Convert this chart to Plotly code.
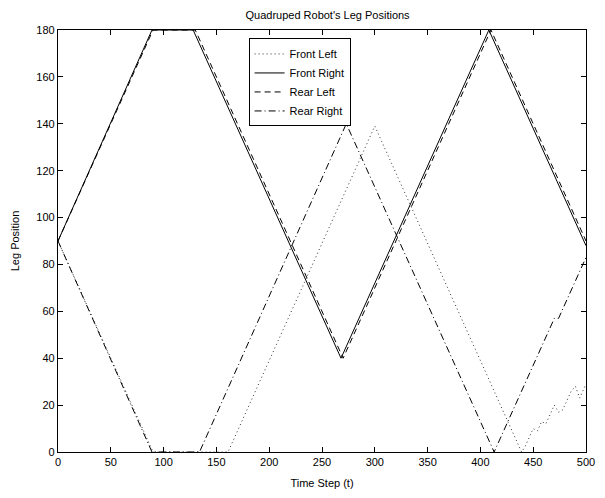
import plotly.graph_objects as go

# Time steps and leg positions (breakpoints)
fl_t = [0, 90, 161, 300, 439, 442, 446, 450, 454, 458, 462, 466, 470, 474, 478, 482, 486, 490, 494, 497, 500]
fl_v = [90, 0, 0, 139, 0, 2, 6, 10, 9, 13, 12, 16, 20, 17, 18, 22, 26, 28, 23, 26, 29]

fr_t = [0, 89, 128, 268, 408, 500]
fr_v = [90, 180, 180, 40, 180, 88]

rl_t = [0, 90, 130, 270, 410, 500]
rl_v = [90, 180, 180, 40, 180, 90]

rr_t = [0, 89, 134, 273, 413, 470, 474, 500]
rr_v = [90, 0, 0, 140, 0, 57, 57, 83]

x_ticks = [0, 50, 100, 150, 200, 250, 300, 350, 400, 450, 500]
y_ticks = [0, 20, 40, 60, 80, 100, 120, 140, 160, 180]

FONT = "Liberation Sans, Arial, Helvetica, sans-serif"

fig = go.Figure()
fig.add_trace(go.Scatter(x=fl_t, y=fl_v, mode="lines", name="Front Left",
                         line=dict(color="#333333", width=1, dash="1px,3px")))
fig.add_trace(go.Scatter(x=fr_t, y=fr_v, mode="lines", name="Front Right",
                         line=dict(color="black", width=1, dash="solid")))
fig.add_trace(go.Scatter(x=rl_t, y=rl_v, mode="lines", name="Rear Left",
                         line=dict(color="black", width=1, dash="6px,4px")))
fig.add_trace(go.Scatter(x=rr_t, y=rr_v, mode="lines", name="Rear Right",
                         line=dict(color="black", width=1, dash="7px,3px,1px,3px")))

axis_common = dict(
    showline=True, linecolor="black", linewidth=1.2, mirror="ticks",
    ticks="inside", ticklen=5, tickwidth=1, tickcolor="black",
    showgrid=False, zeroline=False,
    tickfont=dict(family=FONT, size=11, color="black"),
)

fig.update_layout(
    width=605, height=498,
    margin=dict(l=58, r=10, t=30, b=45),
    paper_bgcolor="white", plot_bgcolor="white",
    font=dict(family=FONT, size=11, color="black"),
    title=dict(text="Quadruped Robot's Leg Positions", x=0.5414, xanchor="center",
               y=1 - 15 / 498, yanchor="middle", font=dict(family=FONT, size=11, color="black")),
    xaxis=dict(range=[0, 500], tickvals=x_ticks, ticktext=[str(v) for v in x_ticks],
               title=dict(text="Time Step (t)", font=dict(family=FONT, size=11), standoff=12),
               **axis_common),
    yaxis=dict(range=[0, 180], tickvals=y_ticks, ticktext=[str(v) for v in y_ticks],
               title=dict(text="Leg Position", font=dict(family=FONT, size=11), standoff=14),
               **axis_common),
    legend=dict(x=0.361, y=0.98, xanchor="left", yanchor="top",
                bgcolor="white", bordercolor="black", borderwidth=1,
                font=dict(family=FONT, size=11, color="black"),
                tracegroupgap=0),
    showlegend=True,
)

fig.write_html("out.html")
